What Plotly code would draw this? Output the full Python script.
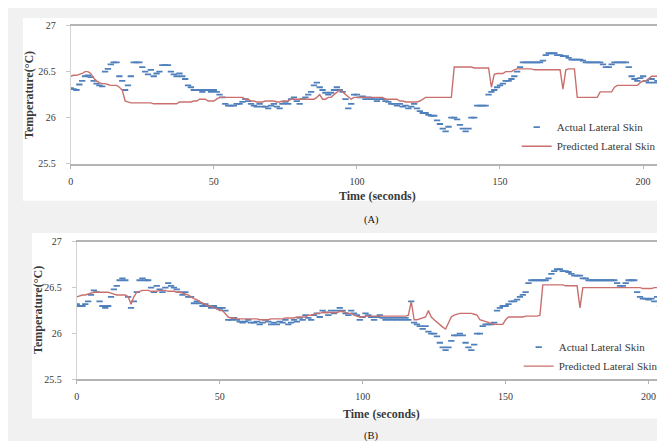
import plotly.graph_objects as go

W, H = 665, 441

# ---------------- data ----------------
time_a = list(range(0, 208))
actual_a = [
    26.32, 26.31, 26.30, 26.36, 26.40, 26.45, 26.46, 26.44, 26.40, 26.37,
    26.35, 26.34, 26.50, 26.53, 26.58, 26.60, 26.60, 26.45, 26.40, 26.30,
    26.35, 26.45, 26.60, 26.60, 26.60, 26.55, 26.50, 26.47, 26.52, 26.45,
    26.48, 26.50, 26.57, 26.57, 26.57, 26.50, 26.47, 26.45, 26.48, 26.45,
    26.42, 26.35, 26.33, 26.30, 26.30, 26.30, 26.28, 26.30, 26.30, 26.28,
    26.30, 26.28, 26.25, 26.22, 26.15, 26.13, 26.13, 26.13, 26.15, 26.15,
    26.17, 26.20, 26.18, 26.15, 26.13, 26.12, 26.15, 26.12, 26.12, 26.10,
    26.13, 26.15, 26.12, 26.10, 26.15, 26.17, 26.15, 26.20, 26.22, 26.18,
    26.15, 26.20, 26.22, 26.25, 26.28, 26.35, 26.38, 26.33, 26.30, 26.27,
    26.25, 26.27, 26.30, 26.33, 26.30, 26.28, 26.20, 26.10, 26.15, 26.25,
    26.25, 26.22, 26.23, 26.20, 26.22, 26.20, 26.20, 26.18, 26.20, 26.20,
    26.18, 26.17, 26.15, 26.15, 26.13, 26.15, 26.12, 26.13, 26.10, 26.12,
    26.15, 26.10, 26.07, 26.05, 26.05, 26.03, 26.02, 26.02, 25.97, 25.93,
    25.88, 25.85, 25.90, 26.00, 26.00, 25.98, 25.92, 25.88, 25.85, 25.88,
    26.00, 26.00, 26.13, 26.13, 26.13, 26.13, 26.25, 26.28, 26.30, 26.33,
    26.35, 26.37, 26.40, 26.40, 26.42, 26.45, 26.50, 26.55, 26.60, 26.60,
    26.60, 26.60, 26.60, 26.60, 26.60, 26.62, 26.68, 26.70, 26.70, 26.70,
    26.68, 26.68, 26.67, 26.67, 26.65, 26.63, 26.63, 26.63, 26.63, 26.62,
    26.60, 26.60, 26.60, 26.60, 26.60, 26.60, 26.58, 26.55, 26.55, 26.58,
    26.60, 26.60, 26.60, 26.60, 26.60, 26.55, 26.45, 26.42, 26.40, 26.43,
    26.45, 26.40, 26.38, 26.42, 26.38, 26.40, 26.35, 26.38,
]
predicted_a = [
    26.45, 26.46, 26.46, 26.47, 26.48, 26.50, 26.50, 26.48, 26.43, 26.40,
    26.38, 26.37, 26.37, 26.36, 26.35, 26.35, 26.35, 26.33, 26.30, 26.18,
    26.17, 26.16, 26.16, 26.16, 26.16, 26.16, 26.16, 26.16, 26.16, 26.15,
    26.15, 26.15, 26.15, 26.15, 26.15, 26.15, 26.15, 26.15, 26.17, 26.17,
    26.17, 26.17, 26.17, 26.18, 26.18, 26.20, 26.20, 26.20, 26.18, 26.18,
    26.18, 26.20, 26.22, 26.22, 26.22, 26.22, 26.22, 26.22, 26.22, 26.22,
    26.22, 26.20, 26.20, 26.18, 26.18, 26.17, 26.17, 26.17, 26.18, 26.18,
    26.18, 26.18, 26.17, 26.17, 26.18, 26.18, 26.18, 26.20, 26.20, 26.20,
    26.20, 26.20, 26.20, 26.20, 26.20, 26.20, 26.22, 26.25, 26.20, 26.20,
    26.22, 26.22, 26.25, 26.28, 26.30, 26.28, 26.25, 26.22, 26.20, 26.22,
    26.22, 26.22, 26.22, 26.22, 26.22, 26.22, 26.22, 26.22, 26.22, 26.22,
    26.20, 26.20, 26.20, 26.20, 26.20, 26.18, 26.18, 26.17, 26.17, 26.17,
    26.17, 26.17, 26.18, 26.20, 26.22, 26.22, 26.22, 26.22, 26.22, 26.22,
    26.22, 26.22, 26.22, 26.22, 26.55, 26.55, 26.55, 26.55, 26.55, 26.55,
    26.55, 26.54, 26.54, 26.54, 26.54, 26.54, 26.54, 26.33, 26.47, 26.48,
    26.48, 26.48, 26.50, 26.50, 26.50, 26.52, 26.53, 26.53, 26.53, 26.53,
    26.53, 26.53, 26.52, 26.52, 26.52, 26.52, 26.52, 26.52, 26.52, 26.52,
    26.52, 26.52, 26.31, 26.52, 26.53, 26.53, 26.53, 26.22, 26.22, 26.22,
    26.22, 26.22, 26.22, 26.22, 26.22, 26.28, 26.28, 26.28, 26.28, 26.28,
    26.33, 26.35, 26.35, 26.35, 26.35, 26.35, 26.35, 26.35, 26.35, 26.38,
    26.40, 26.40, 26.43, 26.45, 26.45, 26.45, 26.47, 26.47,
]

time_b = list(range(0, 207))
actual_b = [
    26.32, 26.30, 26.30, 26.32, 26.35, 26.42, 26.47, 26.45, 26.35, 26.30,
    26.28, 26.30, 26.40, 26.48, 26.52, 26.58, 26.60, 26.58, 26.40, 26.28,
    26.35, 26.45, 26.58, 26.60, 26.58, 26.58, 26.50, 26.45, 26.52, 26.48,
    26.45, 26.50, 26.55, 26.52, 26.50, 26.48, 26.45, 26.42, 26.45, 26.40,
    26.40, 26.33, 26.35, 26.33, 26.30, 26.32, 26.30, 26.28, 26.30, 26.28,
    26.27, 26.28, 26.25, 26.15, 26.15, 26.17, 26.15, 26.13, 26.12, 26.13,
    26.15, 26.12, 26.12, 26.13, 26.10, 26.12, 26.15, 26.13, 26.10, 26.12,
    26.10, 26.13, 26.12, 26.15, 26.10, 26.12, 26.15, 26.13, 26.17, 26.15,
    26.20, 26.17, 26.15, 26.20, 26.22, 26.18, 26.25, 26.23, 26.20, 26.25,
    26.22, 26.25, 26.28, 26.25, 26.22, 26.20, 26.25, 26.22, 26.20, 26.15,
    26.18, 26.22, 26.20, 26.18, 26.15, 26.18, 26.20, 26.17, 26.15, 26.17,
    26.15, 26.17, 26.15, 26.17, 26.15, 26.17, 26.15, 26.35, 26.12, 26.10,
    26.08, 26.05, 26.08, 26.02, 26.00, 26.00, 25.97, 25.90, 25.85, 25.82,
    25.85, 25.92, 25.98, 25.98, 26.00, 25.98, 25.90, 25.85, 25.82, 25.88,
    26.00, 26.00, 26.08, 26.10, 26.10, 26.10, 26.12, 26.25, 26.28, 26.30,
    26.30, 26.32, 26.35, 26.35, 26.37, 26.40, 26.42, 26.45, 26.55, 26.58,
    26.58, 26.58, 26.58, 26.58, 26.58, 26.60, 26.65, 26.68, 26.70, 26.70,
    26.68, 26.68, 26.67, 26.65, 26.63, 26.63, 26.63, 26.60, 26.60, 26.58,
    26.58, 26.58, 26.58, 26.58, 26.58, 26.58, 26.58, 26.58, 26.58, 26.55,
    26.52, 26.52, 26.55, 26.58, 26.58, 26.58, 26.45, 26.40, 26.38, 26.38,
    26.37, 26.38, 26.35, 26.40, 26.30, 26.35, 26.32,
]
predicted_b = [
    26.40, 26.41, 26.42, 26.42, 26.43, 26.44, 26.45, 26.45, 26.45, 26.45,
    26.45, 26.45, 26.44, 26.43, 26.42, 26.42, 26.42, 26.42, 26.40, 26.32,
    26.40, 26.45, 26.46, 26.47, 26.47, 26.47, 26.46, 26.46, 26.46, 26.47,
    26.47, 26.47, 26.46, 26.46, 26.46, 26.45, 26.45, 26.44, 26.43, 26.42,
    26.40, 26.38, 26.37, 26.35, 26.33, 26.32, 26.30, 26.30, 26.28, 26.27,
    26.25, 26.25, 26.22, 26.18, 26.17, 26.17, 26.16, 26.16, 26.16, 26.16,
    26.16, 26.16, 26.16, 26.16, 26.15, 26.15, 26.15, 26.15, 26.16, 26.16,
    26.16, 26.16, 26.16, 26.17, 26.17, 26.17, 26.17, 26.18, 26.18, 26.18,
    26.18, 26.20, 26.20, 26.21, 26.22, 26.22, 26.23, 26.23, 26.23, 26.23,
    26.23, 26.23, 26.24, 26.24, 26.23, 26.22, 26.22, 26.20, 26.19, 26.18,
    26.18, 26.19, 26.19, 26.19, 26.19, 26.19, 26.19, 26.19, 26.19, 26.19,
    26.19, 26.19, 26.19, 26.19, 26.19, 26.19, 26.20, 26.35, 26.15, 26.15,
    26.16, 26.17, 26.18, 26.25, 26.18, 26.15, 26.12, 26.10, 26.07, 26.05,
    26.12, 26.18, 26.20, 26.21, 26.22, 26.22, 26.22, 26.22, 26.22, 26.21,
    26.20, 26.15, 26.14, 26.13, 26.12, 26.11, 26.10, 26.10, 26.10, 26.10,
    26.15, 26.18, 26.18, 26.18, 26.18, 26.18, 26.18, 26.19, 26.19, 26.19,
    26.19, 26.19, 26.20, 26.53, 26.53, 26.53, 26.53, 26.53, 26.53, 26.53,
    26.53, 26.52, 26.52, 26.52, 26.52, 26.52, 26.28, 26.50, 26.50, 26.50,
    26.50, 26.50, 26.50, 26.50, 26.50, 26.50, 26.50, 26.50, 26.50, 26.50,
    26.50, 26.50, 26.50, 26.50, 26.50, 26.50, 26.50, 26.50, 26.49, 26.49,
    26.49, 26.49, 26.50, 26.50, 26.50, 26.50, 26.50,
]

x_ticks = [0, 50, 100, 150, 200]
x_ticktext = ["0", "50", "100", "150", "200"]
y_ticks = [25.5, 26, 26.5, 27]
y_ticktext = ["25.5", "26", "26.5", "27"]

series_names = ["Actual Lateral Skin", "Predicted Lateral Skin"]
x_title = "Time (seconds)"
y_title = "Temperature(°C)"
captions = ["(A)", "(B)"]

# ---------------- styling ----------------
BLUE = "#4f80bc"
RED = "#c9706e"
SERIF = "Liberation Serif, Times New Roman, serif"
TXT = "#3a3a3a"


def px_x(p):
    return p / W


def px_y(p):
    return 1 - p / H


fig = go.Figure()

panels = [
    dict(t=time_a, act=actual_a, pred=predicted_a, xa="x", ya="y", leg="legend"),
    dict(t=time_b, act=actual_b, pred=predicted_b, xa="x2", ya="y2", leg="legend2"),
]
for p in panels:
    fig.add_trace(go.Scatter(
        x=p["t"], y=p["act"], mode="markers", name=series_names[0],
        xaxis=p["xa"], yaxis=p["ya"], legend=p["leg"],
        marker=dict(symbol="line-ew-open", size=4.5, color=BLUE,
                    line=dict(color=BLUE, width=1.8)),
    ))
    fig.add_trace(go.Scatter(
        x=p["t"], y=p["pred"], mode="lines", name=series_names[1],
        xaxis=p["xa"], yaxis=p["ya"], legend=p["leg"],
        line=dict(color=RED, width=1.4),
    ))

# geometry (pixels)
A = dict(x0=60, top=13, bottom=154, xmax=(665 - 61) / 2.87)
B = dict(x0=66, top=234, bottom=375, xmax=(665 - 66.5) / 2.87)

common_x = dict(
    tickvals=x_ticks, ticktext=x_ticktext, showgrid=False, zeroline=False,
    showline=True, linecolor="#b4b4b4", linewidth=2, mirror=True,
    ticks="outside", ticklen=3, tickcolor="#b4b4b4",
    tickfont=dict(family=SERIF, size=10, color=TXT), ticklabelstandoff=4,
)
common_y = dict(
    tickvals=y_ticks, ticktext=y_ticktext, range=[25.5, 27],
    showgrid=False, zeroline=False, showline=True, linecolor="#d4d4d4",
    linewidth=1, ticks="outside", ticklen=4, tickcolor="#c8c8c8",
    tickfont=dict(family=SERIF, size=10, color=TXT), ticklabelstandoff=8,
)

leg_font = dict(family=SERIF, size=11, color=TXT)
fig.update_layout(
    width=W, height=H, margin=dict(l=0, r=0, t=0, b=0),
    paper_bgcolor="#f1f1f1", plot_bgcolor="white",
    xaxis=dict(common_x, domain=[px_x(A["x0"]), 1], range=[0, A["xmax"]],
               anchor="y"),
    yaxis=dict(common_y, domain=[px_y(A["bottom"]), px_y(A["top"])],
               anchor="x"),
    xaxis2=dict(common_x, domain=[px_x(B["x0"]), 1], range=[0, B["xmax"]],
                anchor="y2"),
    yaxis2=dict(common_y, domain=[px_y(B["bottom"]), px_y(B["top"])],
                anchor="x2"),
    legend=dict(x=px_x(508), y=px_y(102), xanchor="left", yanchor="top",
                bgcolor="rgba(0,0,0,0)", font=leg_font),
    legend2=dict(x=px_x(510), y=px_y(327), xanchor="left", yanchor="top",
                 bgcolor="rgba(0,0,0,0)", font=leg_font),
    showlegend=True,
)

# white chart panels
fig.add_shape(type="rect", xref="paper", yref="paper", layer="below",
              x0=px_x(12), x1=1, y0=px_y(192), y1=px_y(5),
              fillcolor="white", line=dict(width=0))
fig.add_shape(type="rect", xref="paper", yref="paper", layer="below",
              x0=px_x(21), x1=1, y0=px_y(415), y1=px_y(225),
              fillcolor="white", line=dict(width=0))

# axis titles and captions
ann = [
    dict(text="<b>" + x_title + "</b>", x=px_x(368), y=px_y(187), size=12),
    dict(text="<b>" + x_title + "</b>", x=px_x(372), y=px_y(410), size=12),
    dict(text="<b>" + y_title + "</b>", x=px_x(18), y=px_y(84), textangle=-90, size=12),
    dict(text="<b>" + y_title + "</b>", x=px_x(27), y=px_y(304), textangle=-90, size=12),
    dict(text=captions[0], x=px_x(362), y=px_y(212), size=10.5, color="#111"),
    dict(text=captions[1], x=px_x(362), y=px_y(433), size=10.5, color="#111"),
]
for a in ann:
    fig.add_annotation(
        text=a["text"], x=a["x"], y=a["y"], xref="paper", yref="paper",
        xanchor="center", yanchor="middle", showarrow=False,
        textangle=a.get("textangle", 0),
        font=dict(family=SERIF, size=a.get("size", 10), color=a.get("color", TXT)),
    )

fig.write_html("out.html")
